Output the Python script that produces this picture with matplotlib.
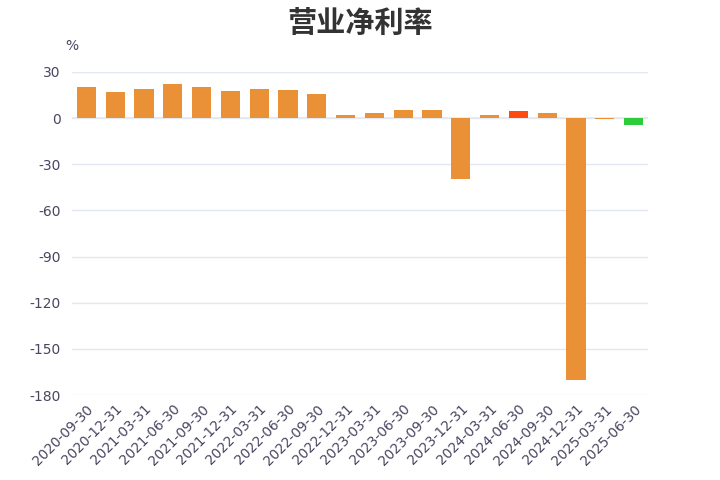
import matplotlib
matplotlib.use("Agg")
import matplotlib.pyplot as plt

plt.rcParams['font.family'] = ['Noto Sans CJK SC', 'DejaVu Sans']

# === data ===
dates = ["2020-09-30", "2020-12-31", "2021-03-31", "2021-06-30", "2021-09-30",
         "2021-12-31", "2022-03-31", "2022-06-30", "2022-09-30", "2022-12-31",
         "2023-03-31", "2023-06-30", "2023-09-30", "2023-12-31", "2024-03-31",
         "2024-06-30", "2024-09-30", "2024-12-31", "2025-03-31", "2025-06-30"]
net_margin = [20.4, 16.7, 18.7, 22.0, 20.4, 17.8, 18.9, 18.3, 15.4, 2.2,
              3.5, 5.0, 5.6, -39.3, 2.3, 4.6, 3.3, -170.0, -0.7, -4.7]
bar_colors = ["#EA9036"] * 14 + ["#EA9036", "#FF4A0F", "#EA9036", "#EA9036", "#EA9036", "#2ECC3A"]
yticks = [30, 0, -30, -60, -90, -120, -150, -180]

fig = plt.figure(figsize=(7.2, 4.8), dpi=100)
ax = fig.add_axes([0.1, 0.177, 0.8, 0.673])

x = list(range(len(dates)))
ax.bar(x, net_margin, width=0.67, color=bar_colors, zorder=3)
ax.axhline(0, color="#e6e8ee", lw=1.2, zorder=2)

ax.set_xlim(-0.5, len(dates) - 0.5)
ax.set_ylim(-180, 30)
ax.set_yticks(yticks)
ax.set_yticklabels([str(v) for v in yticks], fontsize=10, color="#4a4560",
                   family="DejaVu Sans")
ax.set_xticks(x)
ax.set_xticklabels(dates, rotation=45, ha="right", rotation_mode="anchor",
                   fontsize=9.8, color="#4a4560", family="DejaVu Sans")
ax.tick_params(length=0, pad=8)
ax.tick_params(axis="x", pad=5)
ax.grid(axis="y", color="#e3e7f2", lw=1, zorder=0)
for s in ax.spines.values():
    s.set_visible(False)

ax.text(0.0, 1.08, "%", transform=ax.transAxes, fontsize=10, color="#4a4560",
        ha="center", va="center", family="DejaVu Sans")
fig.text(0.5, 0.952, "营业净利率", ha="center", va="center", fontsize=21,
         fontweight="bold", color="#333333")

fig.savefig("out.png", dpi=100, facecolor="white")
